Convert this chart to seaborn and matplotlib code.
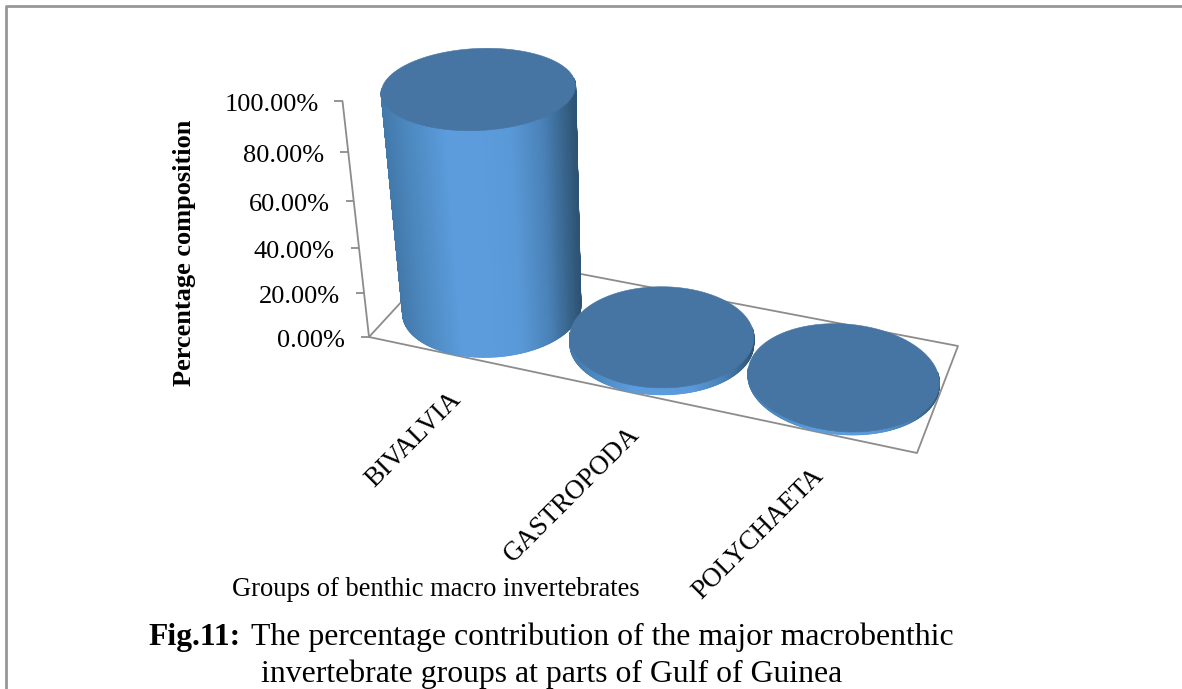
"""3D style cylinder chart of macrobenthic invertebrate groups."""

import numpy as np
import pandas as pd
import seaborn as sns
import matplotlib.pyplot as plt
from matplotlib.collections import LineCollection
from matplotlib.colors import Normalize

groups = ["BIVALVIA", "GASTROPODA", "POLYCHAETA"]
percent = [95.2, 3.0, 1.2]
tick_values = [0, 20, 40, 60, 80, 100]
tick_labels = ["0.00%", "20.00%", "40.00%", "60.00%", "80.00%", "100.00%"]

# picture frame of the 3D box: floor corners and vertical vanishing point
floor_corners = [(369, 337), (917, 453), (958, 346), (450, 249)]
vanish = (640, 2750)
top_of_axis_y = 101
radius_share = 0.985

side_cmap = sns.blend_palette(
    ["#4379ab", "#4f8cc4", "#5c9cdc", "#5c9cdc", "#5a99d8", "#4a82b8", "#2e5474"],
    as_cmap=True,
)
cap_color = "#4675a3"
grey = "#8c8c8c"
serif = "Liberation Serif"

sns.set_theme(style="white")
plt.rcParams["font.family"] = [serif, "DejaVu Serif"]


def floor_matrix(corners):
    a, b = [], []
    for (u, w), (x, y) in zip([(0, 0), (1, 0), (1, 1), (0, 1)], corners):
        a.append([u, w, 1, 0, 0, 0, -u * x, -w * x])
        a.append([0, 0, 0, u, w, 1, -u * y, -w * y])
        b += [x, y]
    h = np.linalg.solve(np.array(a, float), np.array(b, float))
    return np.append(h, 1).reshape(3, 3)


H = floor_matrix(floor_corners)
vp = np.array([vanish[0], vanish[1], 1.0])
base_y = floor_corners[0][1]
lift = H[2, 2] * (base_y - top_of_axis_y) / (top_of_axis_y - vanish[1])


def project(u, w, v):
    u, w, v = np.broadcast_arrays(u, w, np.asarray(v, float))
    pts = np.stack([u, w, np.ones_like(u, dtype=float)])
    vec = H @ pts.reshape(3, -1) + lift * v.ravel() / 100 * vp[:, None]
    return vec[0] / vec[2], vec[1] / vec[2]


def circle(i, angle):
    uu = (i + 0.5) / len(groups) + radius_share * np.cos(angle) / (2 * len(groups))
    ww = 0.5 + radius_share * np.sin(angle) / 2
    return uu, ww


fig, ax = plt.subplots(figsize=(11.82, 6.89), dpi=100)
ax.set_position([0, 0, 1, 1])
ax.set_xlim(0, 1182)
ax.set_ylim(689, 0)
ax.axis("off")

# page border
border = pd.DataFrame({"x": [6, 6, 1182], "y": [689, 5.5, 5.5]})
sns.lineplot(data=border, x="x", y="y", sort=False, estimator=None, color="#979797", lw=2, ax=ax)

# floor outline
fx, fy = project(np.array([0, 1, 1, 0, 0]), np.array([0, 0, 1, 1, 0]), 0)
floor = pd.DataFrame({"x": fx, "y": fy})
sns.lineplot(data=floor, x="x", y="y", sort=False, estimator=None, color=grey, lw=1.3, ax=ax, zorder=1)

# value axis with ticks and labels
ax_x, ax_y = project(0 * np.array(tick_values), 0 * np.array(tick_values), tick_values)
axis_df = pd.DataFrame({"x": ax_x, "y": ax_y})
sns.lineplot(data=axis_df, x="x", y="y", sort=False, estimator=None, color=grey, lw=1.3, ax=ax, zorder=1)
for x, y, lab in zip(ax_x, ax_y, tick_labels):
    ax.plot([x - 8, x], [y, y], color=grey, lw=1.3, solid_capstyle="butt", zorder=1)
    ax.text(x - 24, y + 4, lab, ha="right", va="center", fontsize=19, color="black")

# cylinders: smooth front half of the side, then the flat cap
theta = np.linspace(0, 2 * np.pi, 721)
norm = Normalize(0, 1)
for i, val in enumerate(percent):
    z = 2 + i
    cx, cy = project(*circle(i, theta), 0)
    start = theta[np.argmin(cx)]
    arc = np.linspace(start - 0.1, start + np.pi + 0.1, 241)
    bx, by = project(*circle(i, arc), 0)
    tx, ty = project(*circle(i, arc), val)
    shade = np.clip((bx - cx.min()) / (cx.max() - cx.min()), 0, 1)
    X = np.vstack([bx, tx])
    Y = np.vstack([by, ty])
    C = np.vstack([shade, shade])
    ax.pcolormesh(X, Y, C, shading="gouraud", cmap=side_cmap, norm=norm, zorder=z)
    # soft rim so the shaded edge is not jagged
    pts = np.column_stack([bx, by])
    rim = LineCollection(np.stack([pts[:-1], pts[1:]], axis=1), colors=side_cmap(shade[:-1]), linewidths=0.9, zorder=z)
    ax.add_collection(rim)
    for j, col in [(np.argmin(bx), side_cmap(0.0)), (np.argmax(bx), side_cmap(1.0))]:
        ax.plot([bx[j], tx[j]], [by[j], ty[j]], color=col, lw=0.9, zorder=z)
    capx, capy = project(*circle(i, theta), val)
    ax.fill(capx, capy, color=cap_color, lw=0.4, zorder=z)

# text
ax.text(184, 253, "Percentage composition", rotation=90, ha="center", va="center",
        fontsize=19, fontweight="bold", color="black")
label_ends = [(448, 387), (627, 422), (811, 463)]
for (x, y), lab in zip(label_ends, groups):
    ax.text(x, y, lab, rotation=45, ha="right", va="top", rotation_mode="anchor", fontsize=19.4, color="black")
ax.text(232, 589, "Groups of benthic macro invertebrates", ha="left", va="center", fontsize=19.1, color="black")
ax.text(148, 637, "Fig.11:", ha="left", va="center", fontsize=22.8, fontweight="bold", color="black")
ax.text(251, 637, "The percentage contribution of the major macrobenthic", ha="left", va="center",
        fontsize=22.9, color="black")
ax.text(552, 674, "invertebrate groups at parts of Gulf of Guinea", ha="center", va="center",
        fontsize=22.9, color="black")

fig.savefig("out.png", dpi=100)
